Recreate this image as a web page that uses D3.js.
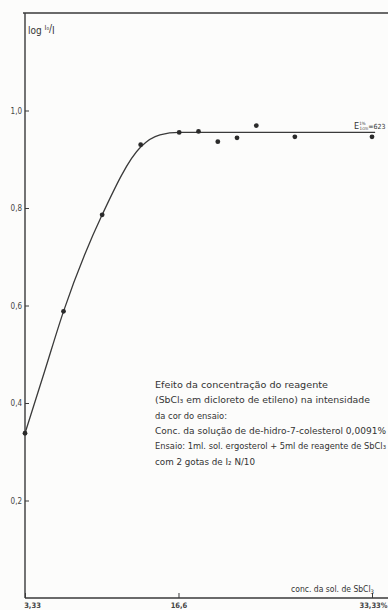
<!DOCTYPE html>
<html>
<head>
<meta charset="utf-8">
<script src="https://cdn.jsdelivr.net/npm/d3@7"></script>
<style>
  html, body { margin: 0; padding: 0; background: #fcfcfb; }
  svg { display: block; }
  text { fill: #333; font-family: "DejaVu Sans Condensed", "Liberation Sans Narrow", sans-serif; }
</style>
</head>
<body>
<div class="container"></div>
<script>
// measured points: reagent concentration vs log I0/I
var conc = [3.33, 6.66, 10, 13.33, 16.66, 18.33, 20, 21.66, 23.33, 26.66, 33.33];
var absorb = [0.338, 0.588, 0.786, 0.930, 0.955, 0.957, 0.936, 0.944, 0.969, 0.946, 0.946];

// hand-drawn fitted curve through the points
var curveConc = [3.33, 5, 6.66, 10, 13.33, 15, 16.66, 20, 26.66, 33.6];
var curveAbs = [0.338, 0.463, 0.588, 0.786, 0.925, 0.950, 0.955, 0.955, 0.955, 0.955];

var yTicks = [0.2, 0.4, 0.6, 0.8, 1.0];
var xTicks = [3.33, 16.6, 33.33];
var xTickLabels = ["3,33", "16,6", "33,33%"];

var noteLines = [
    "Efeito da concentração do reagente",
    "(SbCl\u2083 em dicloreto de etileno) na intensidade",
    "da cor do ensaio:",
    "Conc. da solução de de-hidro-7-colesterol 0,0091%",
    "Ensaio: 1ml. sol. ergosterol + 5ml de reagente de SbCl\u2083",
    "com 2 gotas de I\u2082 N/10"
];
var noteWidths = [173, 215, 72, 231, 231, 100];

document.addEventListener('DOMContentLoaded', function () {
    var W = 388, H = 610;
    var svg = d3.select(".container").append("svg")
        .attr("width", W)
        .attr("height", H);

    var x = d3.scaleLinear().domain([3.33, 33.33]).range([25, 372]);
    var y = d3.scaleLinear().domain([0, 1.2]).range([598, 13]);

    var ink = "#3a3a3a";

    // frame: left axis, top line, bottom axis running off the page
    svg.append("line")
        .attr("x1", x(3.33)).attr("x2", x(3.33))
        .attr("y1", y(1.2)).attr("y2", y(0))
        .attr("stroke", ink).attr("stroke-width", 1.4);
    svg.append("line")
        .attr("x1", x(3.33) - 2).attr("x2", W)
        .attr("y1", y(1.2)).attr("y2", y(1.2))
        .attr("stroke", ink).attr("stroke-width", 1.4);
    svg.append("line")
        .attr("x1", x(3.33)).attr("x2", W)
        .attr("y1", y(0)).attr("y2", y(0))
        .attr("stroke", ink).attr("stroke-width", 1.6);

    var yAxis = svg.append("g")
        .attr("transform", `translate(${x(3.33)},0)`)
        .call(d3.axisLeft(y)
            .tickValues(yTicks)
            .tickSize(-4)
            .tickPadding(3)
            .tickFormat(d => d3.format(".1f")(d).replace(".", ",")));
    yAxis.select(".domain").remove();
    yAxis.selectAll("line").attr("stroke", ink).attr("stroke-width", 1);
    yAxis.selectAll("text")
        .attr("font-size", 8)
        .attr("font-family", "DejaVu Sans Condensed, sans-serif")
        .style("fill", "#444");

    var xAxis = svg.append("g")
        .attr("transform", `translate(0,${y(0)})`)
        .call(d3.axisBottom(x)
            .tickValues(xTicks)
            .tickSize(-5)
            .tickPadding(5)
            .tickFormat((d, i) => xTickLabels[i]));
    xAxis.select(".domain").remove();
    xAxis.selectAll("line").attr("stroke", ink).attr("stroke-width", 1);
    xAxis.selectAll("text")
        .attr("font-size", 7.5)
        .attr("font-weight", "bold")
        .style("fill", "#444")
        .attr("dx", (d, i) => i === 0 ? 7 : (i === 2 ? 1 : 0));

    // fitted curve
    var line = d3.line()
        .x((d, i) => x(curveConc[i]))
        .y((d, i) => y(curveAbs[i]))
        .curve(d3.curveMonotoneX);
    svg.append("path")
        .datum(curveConc)
        .attr("d", line)
        .attr("fill", "none")
        .attr("stroke", ink)
        .attr("stroke-width", 1.3);

    // measured points
    svg.selectAll("circle.pt")
        .data(conc)
        .enter()
        .append("circle")
        .attr("class", "pt")
        .attr("cx", d => x(d))
        .attr("cy", (d, i) => y(absorb[i]))
        .attr("r", 2.4)
        .attr("fill", "#2a2a2a");

    // y axis title: log I0/I
    var yt = svg.append("text")
        .attr("x", 28).attr("y", 34)
        .attr("font-size", 10)
        .attr("font-family", "DejaVu Serif Condensed, DejaVu Serif, serif");
    yt.append("tspan").text("log ");
    yt.append("tspan").attr("font-size", 7).attr("dy", -4).text("I\u2080");
    yt.append("tspan").attr("font-size", 10).attr("dy", 2).text("/");
    yt.append("tspan").attr("dy", 2).text("I");

    // extinction label above the plateau
    var el = svg.append("text")
        .attr("x", 354).attr("y", 129)
        .attr("font-size", 9);
    el.append("tspan").text("E");
    el.append("tspan").attr("font-size", 4.5).attr("dy", -4).text("1%");
    el.append("tspan").attr("font-size", 4.5).attr("dx", -6).attr("dy", 5).text("1cm");
    el.append("tspan").attr("font-size", 7).attr("dy", -1).text("=623");

    // x axis title
    var xt = svg.append("text")
        .attr("x", 291).attr("y", 592)
        .attr("font-size", 8.5);
    xt.append("tspan").text("conc. da sol. de SbCl");
    xt.append("tspan").attr("font-size", 6).attr("dy", 2).text("3");

    // note block
    svg.append("g")
        .selectAll("text")
        .data(noteLines)
        .enter()
        .append("text")
        .attr("x", 155)
        .attr("y", (d, i) => 388 + i * 15.3)
        .attr("font-size", 9)
        .attr("textLength", (d, i) => noteWidths[i])
        .attr("lengthAdjust", "spacingAndGlyphs")
        .text(d => d);
});
</script>
</body>
</html>
